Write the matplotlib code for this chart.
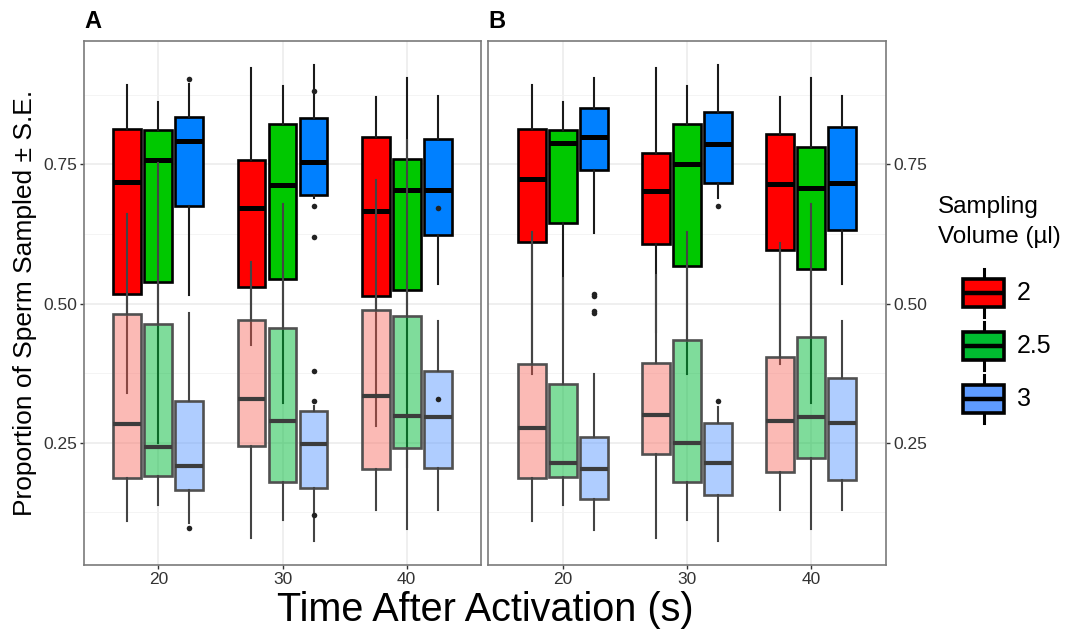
import matplotlib
matplotlib.use('Agg')
import matplotlib.pyplot as plt
from matplotlib.patches import Rectangle

plt.rcParams['font.family'] = ['Liberation Sans', 'DejaVu Sans']

# categories
times = ['20', '30', '40']
volumes = ['2', '2.5', '3']

# box statistics per volume (rows) and time (cols): (whislo, q1, med, q3, whishi)
# upper (bright) boxes, panel A
a_hi = [
    [(0.340, 0.517, 0.718, 0.813, 0.893), (0.425, 0.530, 0.672, 0.758, 0.923), (0.280, 0.514, 0.667, 0.799, 0.872)],
    [(0.250, 0.538, 0.758, 0.812, 0.863), (0.322, 0.545, 0.713, 0.822, 0.891), (0.206, 0.524, 0.704, 0.760, 0.906)],
    [(0.515, 0.676, 0.792, 0.836, 0.895), (0.689, 0.696, 0.755, 0.834, 0.929), (0.535, 0.624, 0.705, 0.795, 0.873)],
]
a_hi_out = [[[], [], []], [[], [], []], [[0.903], [0.882, 0.675, 0.620], [0.671]]]

# lower (pale) boxes, panel A
a_lo = [
    [(0.109, 0.187, 0.283, 0.482, 0.661), (0.078, 0.244, 0.328, 0.471, 0.575), (0.129, 0.202, 0.334, 0.488, 0.722)],
    [(0.138, 0.190, 0.243, 0.464, 0.752), (0.111, 0.180, 0.289, 0.456, 0.679), (0.095, 0.241, 0.298, 0.477, 0.794)],
    [(0.105, 0.165, 0.208, 0.325, 0.483), (0.073, 0.168, 0.247, 0.307, 0.315), (0.129, 0.205, 0.296, 0.379, 0.468)],
]
a_lo_out = [[[], [], []], [[], [], []], [[0.097], [0.120, 0.325, 0.379], [0.329]]]

# upper (bright) boxes, panel B
b_hi = [
    [(0.373, 0.610, 0.724, 0.813, 0.893), (0.449, 0.607, 0.703, 0.770, 0.923), (0.391, 0.596, 0.715, 0.804, 0.872)],
    [(0.454, 0.644, 0.789, 0.812, 0.863), (0.373, 0.567, 0.751, 0.822, 0.891), (0.322, 0.562, 0.707, 0.782, 0.906)],
    [(0.627, 0.740, 0.799, 0.851, 0.906), (0.689, 0.716, 0.787, 0.845, 0.929), (0.535, 0.632, 0.716, 0.818, 0.873)],
]
b_hi_out = [[[], [], []], [[], [], []], [[0.514, 0.483], [0.675], []]]

# lower (pale) boxes, panel B
b_lo = [
    [(0.109, 0.187, 0.277, 0.391, 0.629), (0.078, 0.230, 0.299, 0.394, 0.551), (0.128, 0.198, 0.288, 0.404, 0.609)],
    [(0.138, 0.189, 0.213, 0.356, 0.546), (0.111, 0.180, 0.250, 0.435, 0.628), (0.094, 0.222, 0.296, 0.439, 0.679)],
    [(0.093, 0.148, 0.203, 0.261, 0.374), (0.073, 0.156, 0.214, 0.286, 0.314), (0.128, 0.183, 0.285, 0.367, 0.468)],
]
b_lo_out = [[[], [], []], [[], [], []], [[0.486, 0.517], [0.325], []]]

hi_colors = ['#FF0000', '#00C800', '#0080FF']
lo_colors = ['#F8766D', '#00BA38', '#619CFF']
key_colors = ['#FF0000', '#00BC30', '#5E9BFF']

W, H = 1072, 633
fig = plt.figure(figsize=(W / 100, H / 100), dpi=100)
axA = fig.add_axes([84 / W, 1 - 565 / H, (481 - 84) / W, 524 / H])
axB = fig.add_axes([488 / W, 1 - 565 / H, (886 - 488) / W, 524 / H])

dodge = 0.25
box_w = 0.225


def draw_layer(ax, data, outs, colors, pale):
    for j in range(len(volumes)):
        stats = []
        pos = []
        for i in range(len(times)):
            lo, q1, med, q3, hi = data[j][i]
            stats.append(dict(whislo=lo, q1=q1, med=med, q3=q3, whishi=hi, fliers=outs[j][i]))
            pos.append(i + 1 + (j - 1) * dodge)
        if pale:
            edge, wc, mc, z = '#505050', '#444444', '#3c3c3c', 3
            fa, mlw = 0.5, 3.0
        else:
            edge, wc, mc, z = 'black', '#1a1a1a', 'black', 2
            fa, mlw = 1.0, 3.6
        bp = ax.bxp(stats, positions=pos, widths=box_w, patch_artist=True,
                    showcaps=False, showfliers=True, manage_ticks=False, zorder=z,
                    boxprops=dict(linewidth=1.9, edgecolor=edge),
                    whiskerprops=dict(color=wc, linewidth=1.5),
                    medianprops=dict(color=mc, linewidth=mlw, solid_capstyle='butt'),
                    flierprops=dict(marker='o', markersize=4, markerfacecolor='#222222',
                                    markeredgecolor='none'))
        r, g, bl = matplotlib.colors.to_rgb(colors[j])
        for b in bp['boxes']:
            b.set_facecolor((r, g, bl, fa))


for ax, hi, hio, lo, loo in [(axA, a_hi, a_hi_out, a_lo, a_lo_out),
                              (axB, b_hi, b_hi_out, b_lo, b_lo_out)]:
    ax.set_axisbelow(True)
    draw_layer(ax, hi, hio, hi_colors, False)
    draw_layer(ax, lo, loo, lo_colors, True)
    ax.set_xlim(0.4, 3.6)
    ax.set_ylim(0.030, 0.972)
    ax.set_xticks([1, 2, 3])
    ax.set_xticklabels(times)
    ax.set_yticks([0.25, 0.5, 0.75])
    ax.set_yticklabels(['0.25', '0.50', '0.75'])
    ax.set_yticks([0.125, 0.375, 0.625, 0.875], minor=True)
    ax.grid(True, which='major', color='#EBEBEB', linewidth=1.1)
    ax.grid(True, which='minor', axis='y', color='#F2F2F2', linewidth=0.6)
    ax.tick_params(which='major', length=3, width=1, color='#333333',
                   labelsize=12.5, labelcolor='#333333', pad=2)
    ax.tick_params(which='minor', length=0)
    for s in ax.spines.values():
        s.set_color('#7a7a7a')
        s.set_linewidth(1.2)

axB.yaxis.tick_right()

fig.text(84 / W, 1 - 22 / H, 'A', fontsize=17, fontweight='bold', va='center', ha='left')
fig.text(488 / W, 1 - 22 / H, 'B', fontsize=17, fontweight='bold', va='center', ha='left')
fig.text(25 / W, 1 - 303 / H, 'Proportion of Sperm Sampled ± S.E.', rotation=90,
         fontsize=19, va='center', ha='center')
fig.text(485 / W, 1 - 610 / H, 'Time After Activation (s)', fontsize=28.5,
         va='center', ha='center')

# legend drawn in pixel coordinates
lax = fig.add_axes([0, 0, 1, 1])
lax.set_xlim(0, W)
lax.set_ylim(H, 0)
lax.axis('off')
lax.text(938, 207, 'Sampling', fontsize=17.5, va='center', ha='left')
lax.text(938, 237, 'Volume (µl)', fontsize=17.5, va='center', ha='left')
for k, lab in enumerate(volumes):
    cy = 293 + 53 * k
    lax.plot([983.5, 983.5], [cy - 24, cy + 24], color='black', lw=2.2, zorder=1)
    lax.add_patch(Rectangle((963, cy - 14), 41, 28, facecolor=key_colors[k],
                            edgecolor='black', linewidth=2.6, zorder=2))
    lax.plot([963, 1004], [cy, cy], color='black', lw=3.2, zorder=3,
             solid_capstyle='butt')
    lax.text(1017, cy, lab, fontsize=18, va='center', ha='left')

fig.savefig('out.png', dpi=100)
